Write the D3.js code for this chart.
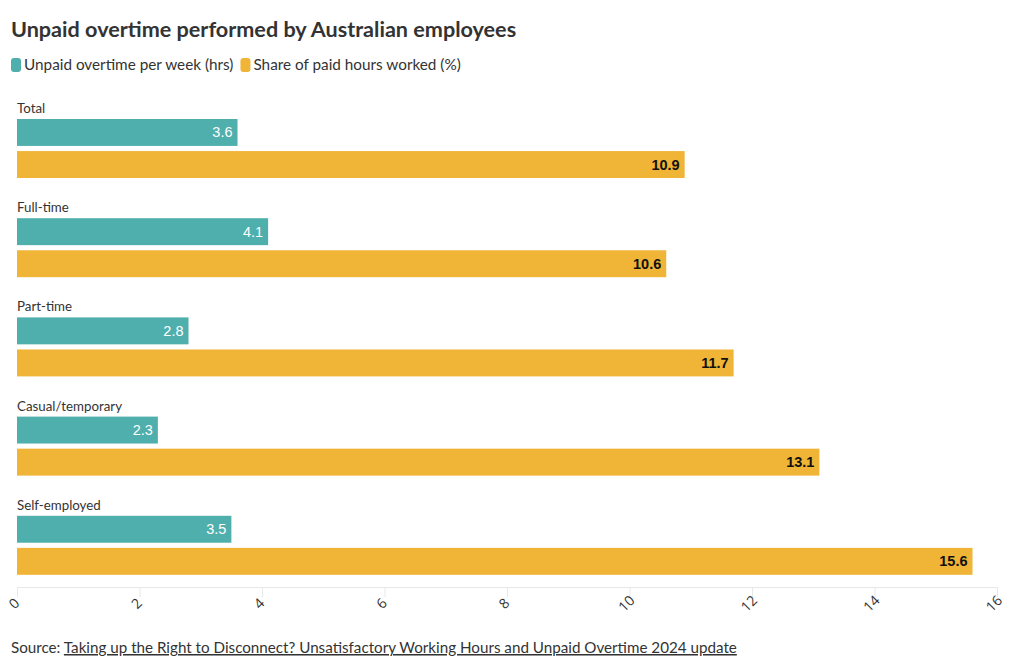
<!DOCTYPE html>
<html><head><meta charset="utf-8">
<script src="https://cdn.jsdelivr.net/npm/d3@7"></script>
<style>
body{margin:0;background:#fff;}
svg{font-family:Lato, "Open Sans", sans-serif;}
</style></head>
<body><svg id="c" width="1020" height="668"></svg>
<script>
const categories = ["Total","Full-time","Part-time","Casual/temporary","Self-employed"];
const seriesNames = ["Unpaid overtime per week (hrs)","Share of paid hours worked (%)"];
const overtimeHrs = [3.6,4.1,2.8,2.3,3.5];
const sharePaid = [10.9,10.6,11.7,13.1,15.6];
const xTicks = [0,2,4,6,8,10,12,14,16];
const colors = ["#4fafad","#f0b436"];

const svg = d3.select("#c");
const left = 17, right = 997;
const x = d3.scaleLinear().domain([0,16]).range([left,right]);
const yGroup = d3.scaleBand().domain(categories).range([97,593]).paddingInner(0).paddingOuter(0);
const ySub = d3.scaleBand().domain([0,1]).range([22,81]).paddingInner(0.16);

svg.append("text").attr("x",11).attr("y",37).attr("font-size",21.6).attr("font-weight",700)
  .attr("fill","#333").text("Unpaid overtime performed by Australian employees");

// legend
let lx = 11;
seriesNames.forEach((n,i)=>{
  svg.append("rect").attr("x",lx).attr("y",58).attr("width",10).attr("height",14).attr("rx",3).attr("fill",colors[i]);
  const t = svg.append("text").attr("x",lx+13).attr("y",70).attr("font-size",15.3).attr("fill","#333").text(n);
  lx += 13 + t.node().getComputedTextLength() + 7;
});

const g = svg.selectAll("g.grp").data(categories).join("g").attr("class","grp")
  .attr("transform",d=>`translate(0,${yGroup(d)})`);
g.append("text").attr("x",17).attr("y",16).attr("font-size",13.3).attr("fill","#333").text(d=>d);

const vals = [overtimeHrs, sharePaid];
g.each(function(d,ci){
  const gg = d3.select(this);
  [0,1].forEach(si=>{
    const v = vals[si][ci];
    gg.append("rect").attr("x",x(0)).attr("y",ySub(si)).attr("width",x(v)-x(0)).attr("height",ySub.bandwidth()).attr("fill",colors[si]);
    gg.append("text").attr("x",x(v)-5).attr("y",ySub(si)+ySub.bandwidth()/2+5)
      .attr("text-anchor","end").attr("font-family","'Liberation Sans', Arial, sans-serif")
      .attr("font-size",14.5).attr("font-weight",si?700:400).attr("fill",si?"#111":"#fff").text(v.toFixed(1));
  });
});

const ax = svg.append("g").attr("transform","translate(0,587)")
  .call(d3.axisBottom(x).tickValues(xTicks).tickSize(10).tickSizeOuter(0).tickFormat(d3.format("d")));
ax.select(".domain").attr("stroke","#e8e8e8");
ax.selectAll(".tick line").attr("stroke","#e8e8e8");
ax.selectAll(".tick text").attr("font-family","'Open Sans', sans-serif").attr("font-size",14).attr("fill","#333")
  .attr("text-anchor","middle").attr("y",0).attr("dy",0)
  .attr("transform","translate(0,20) rotate(-45)");

const src = svg.append("text").attr("x",11).attr("y",653).attr("font-size",15.2).attr("fill","#333");
src.append("tspan").text("Source: ");
src.append("tspan").attr("text-decoration","underline").text("Taking up the Right to Disconnect? Unsatisfactory Working Hours and Unpaid Overtime 2024 update");
</script></body></html>
